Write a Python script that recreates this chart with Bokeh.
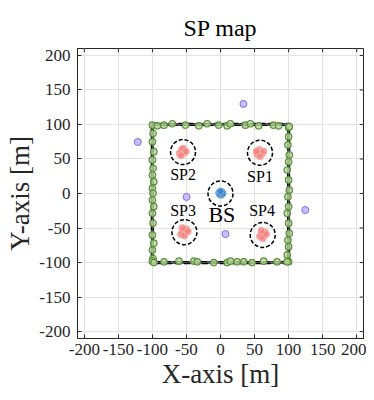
from bokeh.plotting import figure
from bokeh.models import FixedTicker, Range1d, ColumnDataSource
from bokeh.core.properties import value
from bokeh.embed import file_html
from bokeh.resources import INLINE

# ---- data ----
axis_min, axis_max = -210, 210
tick_vals = [-200, -150, -100, -50, 0, 50, 100, 150, 200]
tick_labels = ["-200", "-150", "-100", "-50", "0", "50", "100", "150", "200"]

# trajectory square corners (closed)
route_x = [-100, 100, 100, -100, -100]
route_y = [100, 100, -100, -100, 100]

# green points along the perimeter
green_x = [-100, -92.7, -83, -70.7, -51.2, -31.7, -19.5, -2.4, 9.8, 14.6, 36.6, 43.9, 56, 78, 85.4, 100,
           -99, -100, -98, -100, -99, -100, -98, -100, -99, -100, -98, -100, -99, -100, -98, -100, -99, -100,
           100, 99, 101, 100, 98, 100, 101, 99, 100, 98, 100, 101, 99, 100, 98, 100, 101,
           -97.6, -83, -61, -39, -34, -9.8, 9.8, 14.6, 24.4, 34, 46.4, 63.4, 83, 97.6]
green_y = [99, 98, 99, 101, 99, 98, 101, 99, 98, 101, 99, 101, 98, 99, 98, 96,
           87, 75, 60.6, 48.6, 36.5, 26.8, 17.1, 7.5, 0.3, -9.4, -19, -28.7, -43, -60, -72, -82, -94, -98,
           82.3, 70.3, 55.8, 46, 34, 19.6, 5, -4.6, -19, -28.7, -43, -57.7, -67.4, -77, -89, -98.8, 96.8,
           -100, -99, -98, -98, -99, -100, -100, -98, -99, -99, -100, -98, -99, -99]

# purple points
purple_x = [-121.5, 33.7, -49.8, 7.3, 124.5]
purple_y = [74.6, 129.7, -5, -58.7, -24]

# SP clusters (red)
sp_x = [57, 61, 54, 63, 58, 53,
        -57, -53, -60, -55, -51, -58,
        -54, -50, -58, -53, -48, -56,
        61, 65, 58, 62, 67, 60]
sp_y = [63, 58, 57, 61, 54, 61,
        63, 59, 58, 65, 61, 55,
        -56, -52, -59, -61, -55, -50,
        -60, -56, -62, -65, -59, -54]

# BS cluster (blue)
bs_x = [-2, 2, 1, -1, 3, 0]
bs_y = [1, 2, -2, -1, 0, 3]

# circle centres around clusters
circ_x = [58, -55, -53, 62, 0]
circ_y = [59, 60, -56, -60, 0]

labels = ["SP1", "SP2", "SP3", "SP4"]
label_x = [58, -55, -55, 61]
label_y = [25, 28, -25, -25]
bs_label = ["BS"]
bs_label_x = [2]
bs_label_y = [-31]

FONT = "Liberation Serif"
AX = "#262626"

p = figure(width=366, height=396, output_backend="svg", toolbar_location=None,
           x_range=Range1d(axis_min, axis_max), y_range=Range1d(axis_min, axis_max),
           min_border_left=77, min_border_top=48, min_border_bottom=58, min_border_right=3,
           title="SP map", background_fill_color="white", border_fill_color="white")

p.title.text_font = FONT
p.title.text_font_size = "24px"
p.title.text_font_style = "normal"
p.title.align = "center"
p.title.text_color = "#000000"
p.title.standoff = 16

for ax in (p.xaxis[0], p.yaxis[0]):
    ax.ticker = FixedTicker(ticks=tick_vals)
    ax.major_label_overrides = dict(zip(tick_vals, tick_labels))
    ax.major_tick_in = 4
    ax.major_tick_out = 0
    ax.minor_tick_line_color = None
    ax.major_label_text_font = FONT
    ax.major_label_text_font_size = "17px"
    ax.major_label_text_color = AX
    ax.axis_label_text_font = FONT
    ax.axis_label_text_font_size = "27px"
    ax.axis_label_text_font_style = "normal"
    ax.axis_label_text_color = AX
    ax.axis_line_color = AX
    ax.major_tick_line_color = AX

p.xaxis[0].major_label_standoff = 5
p.yaxis[0].major_label_standoff = 7
p.xaxis[0].axis_label_standoff = 1
p.yaxis[0].axis_label_standoff = 1

p.xaxis[0].axis_label = "X-axis [m]"
p.yaxis[0].axis_label = "Y-axis [m]"

p.xgrid.ticker = FixedTicker(ticks=tick_vals)
p.ygrid.ticker = FixedTicker(ticks=tick_vals)
p.grid.grid_line_color = "#e3e3e3"
p.grid.grid_line_width = 1
p.outline_line_color = AX

# top and right ticks (box on)
tick_len = 5.5
p.segment(x0=tick_vals, y0=[axis_max] * len(tick_vals), x1=tick_vals,
          y1=[axis_max - tick_len] * len(tick_vals), line_color=AX, line_width=1)
p.segment(x0=[axis_max] * len(tick_vals), y0=tick_vals, x1=[axis_max - tick_len] * len(tick_vals),
          y1=tick_vals, line_color=AX, line_width=1)

# trajectory lines
p.line(route_x, route_y, line_color="#555555", line_width=3)
p.line([x * 1.015 for x in route_x], [y * 1.015 for y in route_y], line_color="black",
       line_width=1.2, line_dash="6 3")
p.line([x * 0.985 for x in route_x], [y * 0.985 for y in route_y], line_color="black",
       line_width=1.2, line_dash="6 3")

p.scatter(green_x, green_y, size=6.5, fill_color="#b5d69c", line_color="#5c8f3a",
          fill_alpha=0.8, line_width=1.2)
p.scatter(purple_x, purple_y, size=7, fill_color="#c4b8f7", line_color="#7f6ce8",
          fill_alpha=0.9, line_width=1)
p.scatter(sp_x, sp_y, size=7, fill_color="#f2807c", line_color="#f6b0ac",
          fill_alpha=0.8, line_width=1)
p.scatter(bs_x, bs_y, size=7, fill_color="#3f84cc", line_color="#7fb0e0",
          fill_alpha=0.9, line_width=1)

p.scatter(circ_x, circ_y, size=25, marker="circle", fill_color=None, line_color="black",
          line_width=1.5, line_dash="4 2")

src = ColumnDataSource(dict(x=label_x, y=label_y, t=labels))
p.text(x="x", y="y", text="t", source=src, text_font=value(FONT), text_font_size="16px",
       text_align="center", text_baseline="middle", text_color="black")
p.text(x=bs_label_x, y=bs_label_y, text=bs_label, text_font=value(FONT), text_font_size="22px",
       text_align="center", text_baseline="middle", text_color="black")

open("out.html", "w").write(file_html(p, INLINE))
